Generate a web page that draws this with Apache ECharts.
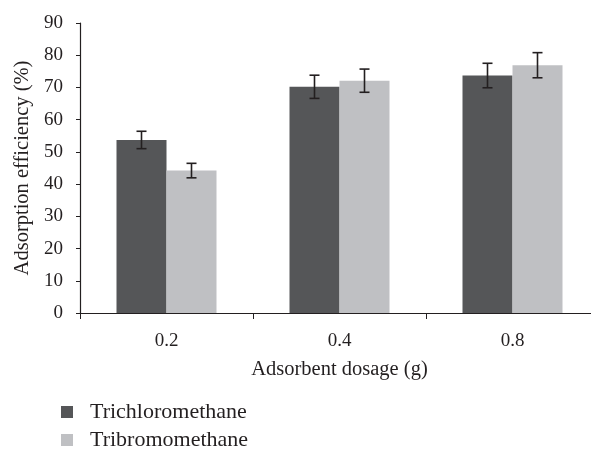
<!DOCTYPE html>
<html>
<head>
<meta charset="utf-8">
<script src="https://cdn.jsdelivr.net/npm/echarts@6/dist/echarts.min.js"></script>
<style>
  html, body { margin: 0; padding: 0; background: #ffffff; overflow: hidden; }
  /* the plot area runs a little past the right edge of the window */
  #chart { width: 600px; height: 449px; }
</style>
</head>
<body>
<div id="chart"></div>
<script>
// Adsorbent dosage groups
const dosages = ['0.2', '0.4', '0.8'];
// Mean adsorption efficiency (%)
const trichloromethane = [53.7, 70.2, 73.7];
const tribromomethane = [44.2, 72.1, 76.9];
// Error bar half-widths (%)
const trichloromethaneErr = [2.7, 3.6, 3.8];
const tribromomethaneErr = [2.25, 3.6, 3.9];
// Y axis ticks
const yTicks = [0, 10, 20, 30, 40, 50, 60, 70, 80, 90];

const SERIF = '"Liberation Serif", "Times New Roman", serif';
const DARK = '#555658';
const LIGHT = '#bfc0c3';
const BAR_W = 50;

function errorSeries(means, errs, side) {
  return {
    type: 'custom',
    silent: true,
    z: 5,
    data: means.map((m, i) => [i, m, errs[i]]),
    renderItem: function (params, api) {
      const idx = api.value(0);
      const mean = api.value(1);
      const e = api.value(2);
      const hi = api.coord([idx, mean + e]);
      const lo = api.coord([idx, mean - e]);
      const x = hi[0] + side * BAR_W / 2;
      const cap = 5;
      const style = { stroke: '#231f20', lineWidth: 1.6 };
      return {
        type: 'group',
        children: [
          { type: 'line', shape: { x1: x, y1: hi[1], x2: x, y2: lo[1] }, style: style },
          { type: 'line', shape: { x1: x - cap, y1: hi[1], x2: x + cap, y2: hi[1] }, style: style },
          { type: 'line', shape: { x1: x - cap, y1: lo[1], x2: x + cap, y2: lo[1] }, style: style }
        ]
      };
    }
  };
}

function legendFor(name, top) {
  return {
    left: 61,
    top: top,
    padding: 0,
    itemWidth: 12,
    itemHeight: 12,
    icon: 'rect',
    data: [name],
    textStyle: { fontFamily: SERIF, fontSize: 22, lineHeight: 22, color: '#231f20', padding: [0, 0, 0, 12] }
  };
}

const chart = echarts.init(document.getElementById('chart'), null, { renderer: 'canvas' });
chart.setOption({
  animation: false,
  backgroundColor: '#ffffff',
  grid: { left: 80, right: 1, top: 23, bottom: 136, containLabel: false },
  legend: [legendFor('Trichloromethane', 401), legendFor('Tribromomethane', 429)],
  xAxis: {
    type: 'category',
    data: dosages,
    name: 'Adsorbent dosage (g)',
    nameLocation: 'middle',
    nameGap: 46,
    nameTextStyle: { fontFamily: SERIF, fontSize: 20.5, color: '#231f20' },
    axisLine: { lineStyle: { color: '#231f20', width: 1.2 } },
    axisTick: { show: true, length: 6, inside: false, alignWithLabel: false, lineStyle: { color: '#231f20' } },
    axisLabel: { fontFamily: SERIF, fontSize: 19, color: '#231f20', margin: 19 }
  },
  yAxis: {
    type: 'value',
    min: yTicks[0],
    max: yTicks[yTicks.length - 1],
    interval: yTicks[1] - yTicks[0],
    name: 'Adsorption efficiency (%)',
    nameLocation: 'middle',
    nameGap: 46,
    nameRotate: 90,
    nameTextStyle: { fontFamily: SERIF, fontSize: 20.5, color: '#231f20' },
    axisLine: { show: true, lineStyle: { color: '#231f20', width: 1.2 } },
    axisTick: { show: true, length: 4, lineStyle: { color: '#231f20' } },
    axisLabel: { fontFamily: SERIF, fontSize: 19, color: '#231f20', margin: 17 },
    splitLine: { show: false }
  },
  series: [
    {
      name: 'Trichloromethane',
      type: 'bar',
      data: trichloromethane,
      barWidth: BAR_W,
      barGap: '0%',
      itemStyle: { color: DARK }
    },
    {
      name: 'Tribromomethane',
      type: 'bar',
      data: tribromomethane,
      barWidth: BAR_W,
      barGap: '0%',
      itemStyle: { color: LIGHT }
    },
    errorSeries(trichloromethane, trichloromethaneErr, -1),
    errorSeries(tribromomethane, tribromomethaneErr, 1)
  ]
});
</script>
</body>
</html>
